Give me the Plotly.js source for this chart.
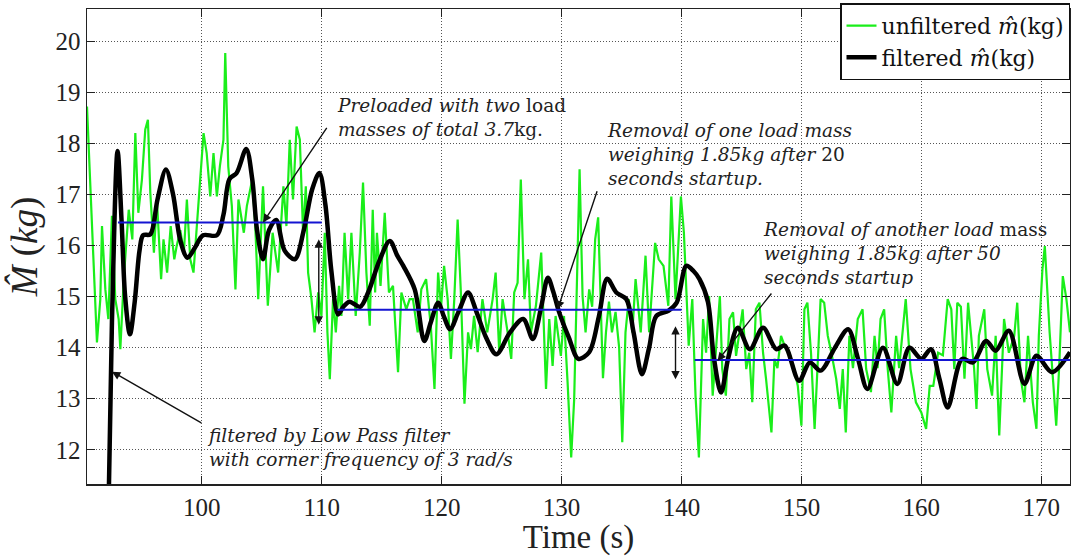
<!DOCTYPE html>
<html>
<head>
<meta charset="utf-8">
<script src="https://cdn.plot.ly/plotly-3.0.1.min.js"></script>
<style>html,body{margin:0;padding:0;background:#fff;} #chart{width:1071px;height:556px;}</style>
</head>
<body>
<div id="chart"></div>
<script>
// Unfiltered estimate (green)
const unfilteredTime = [90.42,90.7,90.97,91.25,91.53,91.67,91.95,92.2,92.5,92.78,93.06,93.2,93.5,93.9,94.2,94.45,94.7,95.0,95.28,95.5,95.7,96.0,96.25,96.6,96.8,97.1,97.4,97.7,97.9,98.2,98.5,98.75,99.03,99.3,99.7,100.14,100.4,100.7,100.97,101.25,101.5,101.8,101.95,102.2,102.5,102.8,103.05,103.5,103.75,104.2,104.45,104.7,105.1,105.5,105.9,106.36,106.8,107.05,107.33,107.6,107.9,108.17,108.44,108.67,108.86,109.14,109.4,109.7,109.97,110.25,110.47,110.67,110.94,111.17,111.44,111.64,111.9,112.2,112.47,112.83,113.17,113.44,113.72,114.0,114.25,114.45,114.6,114.9,115.25,115.6,115.94,116.36,116.64,117.05,117.33,117.6,118.0,118.3,118.7,119.1,119.4,119.7,119.95,120.2,120.5,120.77,121.05,121.33,121.6,121.9,122.2,122.44,122.7,123.0,123.4,123.8,124.25,124.5,124.8,125.08,125.5,125.8,126.05,126.33,126.6,126.9,127.2,127.44,127.86,128.3,128.7,128.97,129.25,129.5,129.94,130.2,130.5,130.8,131.05,131.5,131.75,132.0,132.3,132.55,132.8,133.05,133.45,133.7,133.95,134.2,134.5,134.8,135.06,135.33,135.6,135.9,136.17,136.6,137.0,137.3,137.8,138.1,138.5,138.9,139.15,139.5,139.95,140.2,140.6,140.9,141.17,141.45,141.8,142.05,142.3,142.6,142.9,143.2,143.4,143.7,144.0,144.3,144.55,144.8,145.1,145.4,145.65,145.9,146.2,146.5,146.8,147.05,147.5,147.75,148.0,148.3,148.7,149.0,149.4,149.7,150.0,150.25,150.5,150.8,151.1,151.4,151.6,151.9,152.2,152.5,152.9,153.2,153.45,153.7,154.0,154.3,154.7,155.1,155.4,155.8,156.1,156.35,156.6,156.9,157.2,157.5,157.9,158.15,158.4,158.7,159.1,159.55,160.0,160.4,160.7,161.0,161.4,161.8,162.2,162.5,162.75,163.0,163.3,163.6,163.9,164.1,164.4,164.6,164.8,165.25,165.5,165.9,166.2,166.5,166.9,167.3,167.75,168.0,168.3,168.6,168.9,169.3,169.6,169.8,170.1,170.3,170.7,171.0,171.25,171.5,171.8,172.1,172.4];
const unfilteredMass = [18.72,17.16,15.47,14.1,14.95,16.38,15.14,14.56,16.58,14.95,14.56,13.97,15.4,16.7,16.12,18.2,16.64,17.29,18.27,18.46,17.03,15.86,16.9,15.34,16.12,15.47,16.38,15.73,15.99,16.3,15.86,16.9,15.73,15.47,16.77,18.2,17.81,16.96,17.81,16.96,17.55,18.07,19.77,17.55,16.77,15.14,16.9,16.25,16.77,17.29,16.4,14.95,17.16,14.82,16.25,15.47,17.16,16.38,18.07,16.9,18.33,18.07,16.25,17.16,15.47,14.95,14.3,15.08,14.62,16.25,14.3,13.38,14.95,14.3,15.21,14.62,16.25,14.95,16.25,14.62,15.86,17.23,15.47,14.43,16.7,15.08,16.25,15.21,16.64,15.08,15.21,13.52,15.08,14.75,14.95,14.95,14.3,15.14,15.34,14.4,13.19,15.47,14.8,15.6,14.95,13.78,14.95,16.51,15.08,12.9,14.3,13.97,14.62,13.91,14.95,14.3,14.95,15.47,13.91,14.95,14.3,13.78,15.08,15.27,17.29,14.95,15.73,14.3,14.82,15.86,13.19,14.56,13.64,14.62,13.84,14.62,13.32,11.85,12.99,17.49,15.0,14.3,15.14,14.8,16.12,16.55,13.4,14.3,14.9,14.3,14.7,14.0,12.15,14.3,14.95,14.3,15.34,14.3,15.8,14.3,16.05,15.73,15.6,14.82,16.96,14.95,16.96,16.25,14.04,14.95,13.06,11.85,14.56,13.9,15.01,13.06,14.04,15.01,13.58,13.06,14.56,14.69,13.84,14.23,14.75,13.58,13.9,12.93,14.75,14.88,13.9,13.39,12.34,13.78,13.6,14.23,13.97,13.9,13.58,13.25,12.47,14.75,14.88,13.9,12.41,13.9,14.95,14.88,14.23,13.9,13.39,12.8,13.58,12.34,14.23,13.6,14.56,14.75,13.58,13.13,14.23,13.6,14.56,14.75,13.58,12.73,14.23,13.6,14.23,14.95,13.58,12.93,12.73,12.41,13.25,13.25,13.9,13.85,14.95,14.75,13.58,14.88,14.8,13.39,14.88,14.36,13.6,12.8,14.23,14.75,13.58,13.06,14.23,12.28,14.56,13.9,14.23,14.88,13.39,12.93,14.23,12.93,12.41,14.23,15.53,15.99,14.3,13.32,12.47,13.64,15.4,14.95,14.3];

// Filtered estimate (black)
const filteredTime = [92.15,92.5,92.97,93.3,93.6,94.0,94.4,94.8,95.1,95.7,96.3,97.0,97.6,98.2,98.8,99.4,100.1,101.25,101.8,102.3,102.9,103.7,104.2,104.6,105.1,105.6,106.2,106.9,107.75,108.5,109.2,109.8,110.3,110.8,111.36,111.8,112.3,113.2,113.9,114.8,115.67,116.3,116.8,117.75,118.55,119.1,119.7,120.2,120.7,121.4,122.2,122.9,123.7,124.56,125.7,126.8,127.6,128.3,128.86,129.3,129.8,130.6,131.4,132.3,133.1,133.8,134.56,135.4,136.0,136.7,137.3,137.9,138.9,139.6,140.4,141.0,141.5,142.2,142.7,143.3,143.9,144.7,145.7,146.8,147.9,148.6,149.8,150.7,151.6,152.8,153.9,154.7,155.5,156.8,158.0,159.0,160.0,160.8,161.5,162.2,163.4,164.3,165.4,166.2,167.3,168.6,169.6,170.9,172.4];
const filteredMass = [10.0,14.5,17.85,16.5,15.0,14.26,14.9,15.9,16.2,16.22,16.9,17.49,17.0,16.1,15.76,15.95,16.2,16.2,16.6,17.3,17.42,17.89,17.3,16.3,15.73,16.3,16.5,15.9,15.73,16.3,17.1,17.42,16.8,15.5,14.65,14.8,14.9,14.8,15.1,15.7,16.09,15.8,15.6,15.14,14.13,14.5,14.88,14.6,14.36,14.7,15.08,14.7,14.2,13.87,14.3,14.56,14.17,14.8,15.37,15.1,14.69,14.2,13.78,13.91,14.6,15.35,15.08,14.95,14.3,13.48,14.0,14.62,14.72,14.88,15.6,15.5,15.34,14.9,13.8,13.12,13.8,14.39,13.97,14.39,13.97,14.04,13.35,13.71,13.55,14.0,14.36,13.8,13.19,14.0,13.29,14.0,13.78,13.97,13.4,12.83,13.78,13.71,14.13,13.94,14.33,13.29,13.84,13.52,13.91];

// Reference load levels (blue)
const levelStart = [93.0, 111.3, 141.1];
const levelEnd = [110.0, 140.0, 172.4];
const levelMass = [16.45, 14.74, 13.76];

const xTicks = [100,110,120,130,140,150,160,170];
const yTicks = [12,13,14,15,16,17,18,19,20];

const traces = [
  {x: unfilteredTime, y: unfilteredMass, type: 'scatter', mode: 'lines',
   name: 'unfiltered <i>m̂</i>(kg)', line: {color: '#1aee1a', width: 2.2}},
  {x: filteredTime, y: filteredMass, type: 'scatter', mode: 'lines',
   name: 'filtered <i>m̂</i>(kg)', line: {color: '#000000', width: 4.5, shape: 'spline', smoothing: 0.9}}
];
for (let i = 0; i < levelMass.length; i++) {
  traces.push({x: [levelStart[i], levelEnd[i]], y: [levelMass[i], levelMass[i]], type: 'scatter', mode: 'lines',
    showlegend: false, line: {color: '#1414d2', width: 2}});
}

const serif = 'DejaVu Serif';
const roman = 'Liberation Serif';
const txtFont = {family: serif, size: 18.5, color: '#222'};
function note(x, y, text) {
  return {x: x, y: y, xref: 'x', yref: 'y', text: text, showarrow: false, xanchor: 'left', yanchor: 'middle', align: 'left', font: txtFont};
}
function arrow(x, y, ax, ay, both) {
  return {x: x, y: y, ax: ax, ay: ay, xref: 'x', yref: 'y', axref: 'x', ayref: 'y', text: '', showarrow: true,
    arrowhead: 2, arrowsize: 1.2, arrowwidth: 1.4, arrowcolor: '#111', arrowside: both ? 'end+start' : 'end', startarrowhead: 2, startarrowsize: 1.2};
}

const layout = {
  width: 1071, height: 556,
  margin: {l: 87, r: 1, t: 9, b: 72},
  paper_bgcolor: '#fff', plot_bgcolor: '#fff',
  showlegend: true,
  legend: {x: 1, xanchor: 'right', y: 1.012, yanchor: 'top', bgcolor: '#fff', bordercolor: '#111', borderwidth: 1.5,
    font: {family: serif, size: 22, color: '#111'}, tracegroupgap: 0},
  xaxis: {range: [90.42, 172.4], tickvals: xTicks, ticktext: xTicks.map(String), ticks: 'inside', ticklen: 8, tickcolor: '#222',
    showline: true, linecolor: '#222', linewidth: 1.5, mirror: 'ticks', showgrid: true, gridcolor: '#555', griddash: '1px,2px', gridwidth: 1,
    zeroline: false, tickfont: {family: roman, size: 25, color: '#222'},
    title: {text: 'Time (s)', font: {family: roman, size: 33, color: '#222'}, standoff: 10}},
  yaxis: {range: [11.33, 20.63], tickvals: yTicks, ticktext: yTicks.map(String), ticks: 'inside', ticklen: 8, tickcolor: '#222',
    showline: true, linecolor: '#222', linewidth: 1.5, mirror: 'ticks', showgrid: true, gridcolor: '#555', griddash: '1px,2px', gridwidth: 1,
    zeroline: false, tickfont: {family: roman, size: 25, color: '#222'},
    title: {text: '<i>M̂</i> (<i>kg</i>)', font: {family: roman, size: 37, color: '#222'}, standoff: 6}},
  annotations: [
    note(111.08, 18.51, '<i>Preloaded with two</i> load<br><i>masses of total 3.7</i>kg.'),
    note(133.58, 17.78, '<i>Removal of one load mass</i><br><i>weighing 1.85kg after</i> 20<br><i>seconds startup.</i>'),
    note(146.67, 15.85, '<i>Removal of another load</i> mass<br><i>weighing 1.85kg after 50</i><br><i>seconds startup</i>'),
    note(100.25, 12.05, '<i>filtered by Low Pass filter</i><br><i>with corner frequency of 3 rad/s</i>'),
    arrow(105.1, 16.45, 110.5, 18.33, false),
    arrow(129.67, 14.75, 133.0, 17.09, false),
    arrow(143.0, 13.74, 147.6, 15.09, false),
    arrow(92.5, 13.53, 100.08, 12.51, false),
    arrow(109.75, 16.12, 109.75, 14.42, true),
    arrow(139.5, 14.42, 139.5, 13.35, true)
  ]
};

Plotly.newPlot('chart', traces, layout, {displayModeBar: false, staticPlot: true});
</script>
</body>
</html>
